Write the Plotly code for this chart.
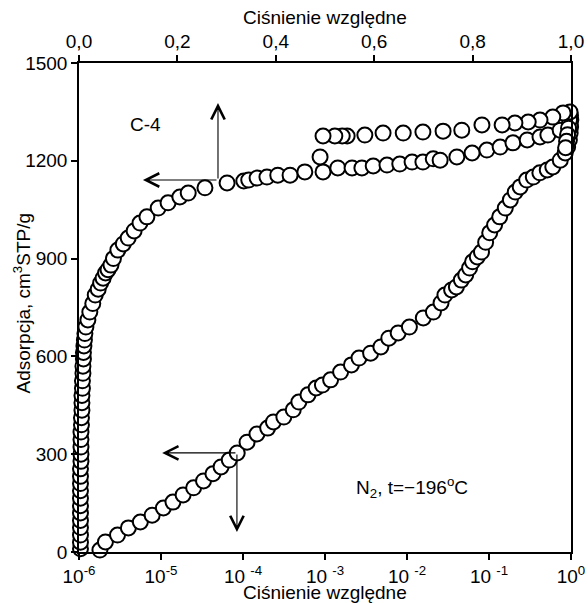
import plotly.graph_objects as go

# ---- Data ----
# Isotherm on the linear (top) axis: adsorption branch
lin_ads_x = [0.003, 0.003, 0.003, 0.003, 0.003, 0.003, 0.003, 0.003, 0.003, 0.003,
             0.003, 0.003, 0.004, 0.004, 0.004, 0.004, 0.004, 0.005, 0.005, 0.006,
             0.006, 0.006, 0.007, 0.007, 0.008, 0.008, 0.009, 0.009, 0.010, 0.011,
             0.012, 0.014, 0.018, 0.022, 0.028, 0.033, 0.039, 0.044, 0.049, 0.054,
             0.059, 0.065, 0.070, 0.079, 0.090, 0.100, 0.112, 0.124,
             0.138, 0.161, 0.181, 0.205, 0.222, 0.256, 0.301, 0.335, 0.345, 0.362,
             0.382, 0.404, 0.429, 0.459, 0.496, 0.526, 0.555, 0.575, 0.598, 0.626,
             0.652, 0.677, 0.699, 0.720, 0.734, 0.768, 0.799, 0.829, 0.856, 0.882,
             0.911, 0.937, 0.953, 0.978, 0.998]
lin_ads_y = [10, 30, 52, 75, 97, 120, 142, 165, 188, 210,
             232, 255, 278, 300, 322, 345, 368, 390, 412, 435,
             458, 480, 502, 525, 548, 570, 592, 612, 632, 650,
             670, 690, 712, 736, 762, 788, 806, 825, 840, 856,
             866, 880, 900, 926, 945, 963, 985, 1009,
             1028, 1055, 1071, 1089, 1101, 1117, 1132, 1138, 1141, 1147,
             1150, 1156, 1156, 1166, 1166, 1178, 1178, 1178, 1184, 1187,
             1190, 1196, 1196, 1206, 1202, 1212, 1224, 1233, 1242, 1255,
             1264, 1273, 1279, 1294, 1310]

# Isotherm on the linear (top) axis: desorption branch
lin_des_x = [0.999, 0.997, 0.995, 0.993, 0.991, 0.989, 0.998, 0.984, 0.963, 0.937,
             0.913, 0.886, 0.860, 0.819, 0.778, 0.740, 0.699, 0.659, 0.618, 0.581,
             0.545, 0.535, 0.520, 0.496, 0.490]
lin_des_y = [1340, 1325, 1300, 1280, 1260, 1240, 1350, 1347, 1334, 1325,
             1319, 1316, 1310, 1310, 1294, 1291, 1288, 1285, 1285, 1279,
             1276, 1276, 1276, 1276, 1212]

# Isotherm on the logarithmic (bottom) axis
log_p = [1.8e-6, 2.1e-6, 2.95e-6, 4.0e-6, 5.6e-6, 7.8e-6, 1.07e-5, 1.4e-5, 1.86e-5, 2.5e-5,
         3.3e-5, 4.3e-5, 5.4e-5, 6.8e-5, 8.5e-5, 1.12e-4, 1.48e-4, 2.0e-4, 2.35e-4, 3.15e-4,
         4.1e-4, 4.8e-4, 6.2e-4, 7.8e-4, 9.3e-4, 1.17e-3, 1.55e-3, 2.1e-3, 2.6e-3, 3.6e-3,
         4.8e-3, 6.0e-3, 7.8e-3, 1.07e-2, 1.58e-2, 2.1e-2, 2.6e-2, 2.9e-2, 3.5e-2, 4.0e-2,
         4.6e-2, 5.2e-2, 5.8e-2, 6.3e-2, 7.2e-2, 8.1e-2, 9.1e-2, 0.102, 0.117, 0.135, 0.158,
         0.182, 0.209, 0.24, 0.288, 0.347, 0.417, 0.513, 0.60, 0.74, 0.85, 0.91,
         0.955, 0.977, 0.989, 0.995]
log_y = [6, 31, 52, 74, 92, 113, 135, 153, 175, 197,
         218, 240, 261, 282, 304, 337, 362, 380, 399, 414,
         436, 460, 482, 503, 512, 528, 552, 574, 595, 610,
         629, 656, 672, 690, 718, 736, 764, 788, 804, 813,
         834, 850, 871, 890, 905, 920, 950, 979, 1003, 1028, 1055,
         1080, 1104, 1120, 1141, 1150, 1163, 1172, 1181, 1202, 1224, 1242,
         1264, 1285, 1304, 1325]

# Tick labels
log_tickvals = [1e-6, 1e-5, 1e-4, 1e-3, 1e-2, 1e-1, 1]
log_ticktext = ["10<sup>-6</sup>", "10<sup>-5</sup>", "10 <sup>-4</sup>", "10 <sup>-3</sup>",
                "10 <sup>-2</sup>", "10 <sup>-1</sup>", "10<sup>0</sup>"]
lin_tickvals = [0.0, 0.2, 0.4, 0.6, 0.8, 1.0]
lin_ticktext = ["0,0", "0,2", "0,4", "0,6", "0,8", "1,0"]
y_tickvals = [0, 300, 600, 900, 1200, 1500]

FONT = "Liberation Sans"
FS = 19
marker = dict(symbol="circle", size=15, color="white",
              line=dict(color="black", width=2))

fig = go.Figure()
fig.add_trace(go.Scatter(x=log_p, y=log_y, mode="markers", marker=marker,
                         xaxis="x", yaxis="y", cliponaxis=False, showlegend=False))
fig.add_trace(go.Scatter(x=lin_ads_x, y=lin_ads_y, mode="markers", marker=marker,
                         xaxis="x2", yaxis="y", cliponaxis=False, showlegend=False))
fig.add_trace(go.Scatter(x=lin_des_x, y=lin_des_y, mode="markers", marker=marker,
                         xaxis="x2", yaxis="y", cliponaxis=False, showlegend=False))

axis_common = dict(showline=True, linecolor="black", linewidth=1.5,
                   ticks="outside", ticklen=6, tickwidth=1.5, tickcolor="black",
                   showgrid=False, zeroline=False, automargin=False,
                   tickfont=dict(family=FONT, size=FS, color="black"))

fig.update_layout(
    width=588, height=603,
    margin=dict(l=79, r=17, t=63, b=51),
    paper_bgcolor="white", plot_bgcolor="white",
    font=dict(family=FONT, size=FS, color="black"),
    xaxis=dict(type="log", range=[-6, 0], tickvals=log_tickvals, ticktext=log_ticktext,
               **axis_common),
    xaxis2=dict(range=[0, 1], overlaying="x", side="top", tickvals=lin_tickvals,
                ticktext=lin_ticktext, **axis_common),
    yaxis=dict(range=[0, 1500], tickvals=y_tickvals, mirror=True, **axis_common),
)

# Axis titles placed as text
title_font = dict(family=FONT, size=FS, color="black")
fig.add_annotation(x=0.5, y=1.094, xref="paper", yref="paper", yanchor="middle",
                   text="Ciśnienie względne", showarrow=False, font=title_font)
fig.add_annotation(x=0.5, y=-0.0818, xref="paper", yref="paper", yanchor="middle",
                   text="Ciśnienie względne", showarrow=False, font=title_font)
fig.add_annotation(x=-0.116, y=0.51, xref="paper", yref="paper", textangle=-90,
                   xanchor="center", yanchor="middle",
                   text="Adsorpcja, cm<sup>3</sup>STP/g", showarrow=False, font=title_font)

arrow_style = dict(xref="x2", yref="y", axref="x2", ayref="y", text="",
                   showarrow=True, arrowhead=5, arrowsize=2.4, arrowwidth=1.1,
                   arrowcolor="black", standoff=0, startstandoff=0)
# Upper arrow (linear axis)
fig.add_annotation(x=0.2825, y=1377, ax=0.2825, ay=1141, **arrow_style)
fig.add_annotation(x=0.130, y=1141, ax=0.2825, ay=1141, **arrow_style)
# Lower arrow (log axis)
fig.add_annotation(x=0.169, y=304, ax=0.321, ay=304, **arrow_style)
fig.add_annotation(x=0.321, y=61, ax=0.321, ay=304, **arrow_style)

fig.add_annotation(x=0.0996, y=0.90, xref="paper", yref="paper", text="C-4",
                   showarrow=False, font=title_font)
fig.add_annotation(x=0.795, y=0.10, xref="paper", yref="paper",
                   text="N<sub>2</sub>, t=−196<sup>o</sup>C",
                   showarrow=False, font=title_font)

fig.write_html("out.html")
